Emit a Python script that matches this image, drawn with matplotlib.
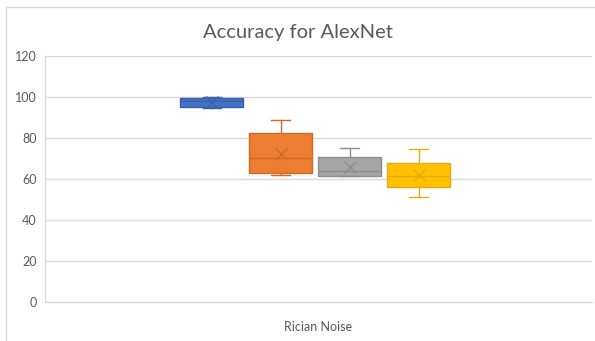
import matplotlib.pyplot as plt
from matplotlib.patches import Rectangle

# accuracy (%) of AlexNet under Rician noise, one box per model variant
labels = ["A", "B", "C", "D"]
q1 = [95.0, 63.0, 61.5, 56.0]
med = [98.0, 70.0, 63.7, 61.6]
q3 = [99.5, 82.3, 70.9, 68.0]
whislo = [94.5, 62.0, 61.5, 51.0]
whishi = [100.0, 88.8, 75.0, 74.6]
means = [97.7, 72.2, 66.0, 62.0]

fill = ["#4472C4", "#ED7D31", "#A5A5A5", "#FFC000"]
edge = ["#3A62AA", "#D06A25", "#8E8E8E", "#E5AC10"]

grid_c = "#D9D9D9"
text_c = "#595959"

fig = plt.figure(figsize=(5.95, 3.41), dpi=100)
ax = fig.add_axes([0.0756, 0.1144, 0.9194, 0.7216])

stats = []
for i in range(len(labels)):
    stats.append(dict(label=labels[i], q1=q1[i], med=med[i], q3=q3[i],
                      whislo=whislo[i], whishi=whishi[i], mean=means[i]))

w = 0.115
gap = 0.011
center = 0.494
pos = [center + (i - 1.5) * (w + gap) for i in range(len(labels))]

for i, s in enumerate(stats):
    ax.bxp([s], positions=[pos[i]], widths=w, patch_artist=True,
           showmeans=True, showfliers=False, manage_ticks=False,
           boxprops=dict(facecolor=fill[i], edgecolor=edge[i], linewidth=1.0),
           medianprops=dict(color=edge[i], linewidth=1.0),
           whiskerprops=dict(color=edge[i], linewidth=1.0),
           capprops=dict(color=edge[i], linewidth=1.0),
           capwidths=0.034,
           meanprops=dict(marker="x", markeredgecolor=edge[i], markersize=8,
                          markeredgewidth=1.0),
           zorder=3)

ax.set_xlim(0, 1)
ax.set_ylim(0, 120)
ax.set_yticks(range(0, 121, 20))
ax.set_xticks([0.5])
ax.set_xticklabels(["Rician Noise"])
ax.tick_params(length=0, colors=text_c, labelsize=9, pad=6)
ax.tick_params(axis="x", pad=14)
for lbl in ax.get_xticklabels() + ax.get_yticklabels():
    lbl.set_fontfamily(["Lato", "DejaVu Sans"])

ax.grid(axis="y", color=grid_c, linewidth=1.0, zorder=0)
ax.set_axisbelow(True)
for side in ["top", "right"]:
    ax.spines[side].set_visible(False)
for side in ["left", "bottom"]:
    ax.spines[side].set_color(grid_c)
    ax.spines[side].set_linewidth(1.0)

fig.text(0.5, 0.905, "Accuracy for AlexNet", ha="center", va="center",
         fontsize=14.5, color=text_c, family=["Lato", "DejaVu Sans"])

# chart area border
fig.patches.append(Rectangle((6 / 595, -0.05), 1.0, 1 - 7 / 341 + 0.05,
                             transform=fig.transFigure, fill=False,
                             edgecolor=grid_c, linewidth=1.0))

fig.savefig("out.png", dpi=100)
